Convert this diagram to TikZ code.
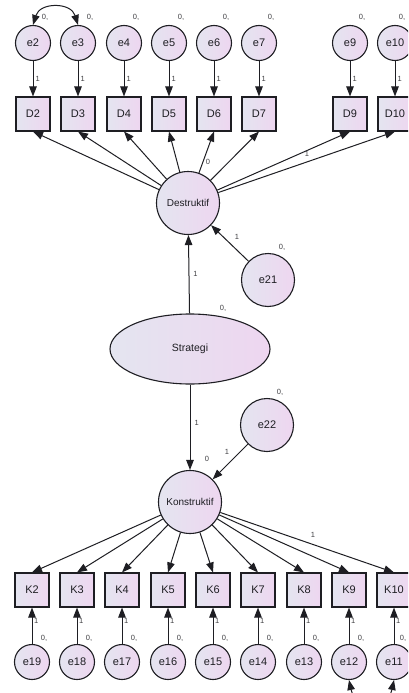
\documentclass[tikz,border=0pt]{standalone}
\usepackage{fontspec}
\setmainfont{Liberation Sans}
\usetikzlibrary{arrows.meta,shapes.geometric}
\definecolor{fillL}{RGB}{228,229,240}
\definecolor{fillR}{RGB}{238,214,240}
\definecolor{ink}{RGB}{30,30,35}
\begin{document}
\begin{tikzpicture}[x=1pt,y=-1pt,
  base/.style={draw=ink,line width=1.1pt,left color=fillL,right color=fillR,text=ink,inner sep=0pt},
  lat/.style={base,circle,minimum size=63pt,font=\fontsize{10}{11}\selectfont},
  err/.style={base,circle,minimum size=35pt,font=\fontsize{11}{12}\selectfont},
  bigerr/.style={base,circle,minimum size=53pt,font=\fontsize{11}{12}\selectfont},
  obs/.style={base,rectangle,minimum size=34pt,font=\fontsize{11}{12}\selectfont},
  strat/.style={base,ellipse,minimum width=160pt,minimum height=70pt,font=\fontsize{10.5}{12}\selectfont},
  arr/.style={draw=ink,line width=1pt,-{Triangle[length=10pt,width=7.5pt]}},
  cov/.style={draw=ink,line width=1pt,{Triangle[length=10pt,width=7.5pt]}-{Triangle[length=10pt,width=7.5pt]}},
  lbl/.style={font=\fontsize{7.5}{8}\selectfont,inner sep=0pt,text=ink!85}]
\clip (0,0) rectangle (408,693);
\fill[white] (0,0) rectangle (408,693);

% latent variables
\node[lat] (dest) at (188,203) {Destruktif};
\node[lat] (kons) at (190,502) {Konstruktif};
\node[strat] (strategi) at (190,349) {Strategi};
\node[bigerr] (e21) at (268,280) {e21};
\node[bigerr] (e22) at (267,425) {e22};

% top indicators
\foreach \n/\x in {2/33,3/78,4/124,5/169,6/214,7/259,9/350,10/395}{
  \node[err] (e\n) at (\x,43) {e\n};
  \node[obs] (D\n) at (\x,114) {D\n};
  \draw[arr] (e\n) -- (D\n) node[lbl,midway,right=2pt] {1};
  \draw[arr] (dest) -- (D\n.south);
}
\foreach \n/\x in {2/45,3/90,4/136,5/181,6/226,7/271,9/362,10/402}{
  \node[lbl] (z\n) at (\x,17) {0,};
}
\draw[cov] (e2.north) .. controls (40,2) and (71,2) .. (e3.north);
\node[lbl] (l0d6) at (208,162) {0};
\node[lbl] (l1d9) at (307,154) {1};

% bottom indicators
\foreach \k/\e/\x in {2/19/32,3/18/77,4/17/122,5/16/168,6/15/213,7/14/258,8/13/304,9/12/349,10/11/394}{
  \node[obs] (K\k) at (\x,590) {K\k};
  \node[err] (e\e) at (\x,662) {e\e};
  \draw[arr] (e\e) -- (K\k) node[lbl,pos=0.62,right=1.5pt] {1};
  \draw[arr] (kons) -- (K\k.north);
}
\foreach \e/\x in {19/44,18/89,17/134,16/180,15/225,14/270,13/316,12/361,11/403}{
  \node[lbl] (z\e) at (\x,638) {0,};
}
\draw[cov] (e12.south) .. controls (356,712) and (387,712) .. (e11.south);
\node[lbl] (l1k10) at (313,535) {1};

% structural paths
\draw[arr] (strategi) -- (dest) node[lbl,pos=0.5,right=4pt] {1};
\draw[arr] (strategi) -- (kons) node[lbl,pos=0.45,right=4pt] {1};
\draw[arr] (e21) -- (dest);
\draw[arr] (e22) -- (kons);
\node[lbl] (l1e21) at (237,237) {1};
\node[lbl] (z21) at (282,247) {0,};
\node[lbl] (zs) at (223,308) {0,};
\node[lbl] (z22) at (280,392) {0,};
\node[lbl] (l1e22) at (227,452) {1};
\node[lbl] (l0k) at (207,459) {0};
\end{tikzpicture}
\end{document}
